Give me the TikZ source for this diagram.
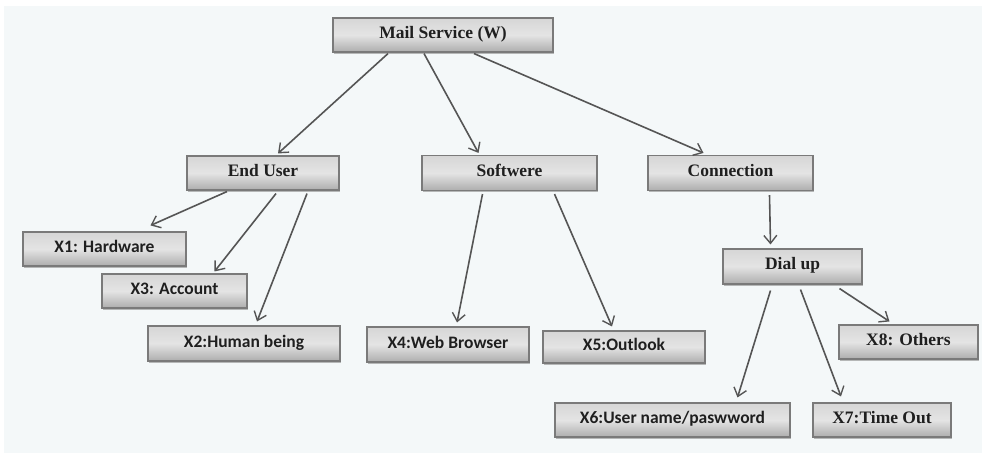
\documentclass[tikz,border=0pt]{standalone}
\usepackage{fontspec}
\setmainfont{Liberation Serif}
\newfontfamily\carlitofont{Carlito}
\usetikzlibrary{arrows.meta,shadows,calc}
\definecolor{bgc}{HTML}{F4F8F9}
\definecolor{boxline}{HTML}{7A7A7A}
\definecolor{arr}{HTML}{555555}
\definecolor{boxtop}{HTML}{D6D6D6}
\definecolor{boxmid}{HTML}{E4E4E4}
\definecolor{boxbot}{HTML}{ADADAD}
\tikzset{
  gbox/.style={draw=boxline, line width=1.1pt, top color=boxtop, bottom color=boxbot, middle color=boxmid,
    drop shadow={shadow xshift=1.2pt, shadow yshift=-1.5pt, fill=black!45, opacity=.6},
    inner sep=0pt, font=\fontsize{17.5}{20}\selectfont\bfseries, text=black!88,
    text height=12pt, text depth=6pt},
  sbox/.style={gbox, font=\carlitofont\fontsize{17.5}{20}\selectfont\bfseries,
    text height=11.5pt, text depth=4.5pt},
  conn/.style={draw=arr, line width=1.6pt, -{Straight Barb[length=8pt,width=13pt,line width=1.4pt]}}
}
\begin{document}
\begin{tikzpicture}[x=1pt,y=-1pt]
\useasboundingbox (0,0) rectangle (982,453);
\fill[bgc] (4,6) rectangle (982,453);
% nodes (center, size)
\node[gbox, minimum width=220pt, minimum height=34pt] (mail) at (443,35) {Mail Service (W)};
\node[gbox, minimum width=152pt, minimum height=34pt] (eu) at (263,173) {End User};
\node[gbox, minimum width=175pt, minimum height=35pt] (sw) at (509.5,173) {Softwere};
\node[gbox, minimum width=165pt, minimum height=35pt] (cn) at (730.5,173) {Connection};
\node[sbox, minimum width=163pt, minimum height=34pt] (x1) at (104.5,249) {X1: Hardware};
\node[sbox, minimum width=145pt, minimum height=34pt] (x3) at (174.5,291) {X3: Account};
\node[sbox, minimum width=192pt, minimum height=35pt] (x2) at (244,343.5) {X2:Human being};
\node[sbox, minimum width=162pt, minimum height=35pt] (x4) at (448,344.5) {X4:Web Browser};
\node[sbox, minimum width=162pt, minimum height=32pt] (x5) at (624,347) {X5:Outlook};
\node[gbox, minimum width=139pt, minimum height=35pt] (dial) at (792.5,266.5) {Dial up};
\node[gbox, minimum width=139pt, minimum height=34pt] (x8) at (908.5,342) {X8: Others};
\node[sbox, minimum width=235pt, minimum height=34pt] (x6) at (672.5,420) {X6:User name/paswword};
\node[gbox, minimum width=138pt, minimum height=34pt] (x7) at (882,420) {X7:Time Out};
% connectors
\draw[conn] ([xshift=-55pt,yshift=-1pt]mail.south) -- ([xshift=15pt,yshift=2pt]eu.north);
\draw[conn] ([xshift=-19pt,yshift=-1pt]mail.south) -- ([xshift=-31pt,yshift=2pt]sw.north);
\draw[conn] ([xshift=31pt,yshift=-1pt]mail.south) -- ([xshift=-27pt,yshift=2pt]cn.north);
\draw[conn] ([xshift=-36pt,yshift=-1pt]eu.south) -- ([xshift=46pt,yshift=6pt]x1.north);
\draw[conn] ([xshift=13pt,yshift=-3pt]eu.south) -- ([xshift=40pt,yshift=2pt]x3.north);
\draw[conn] ([xshift=44pt,yshift=-3pt]eu.south) -- ([xshift=13pt,yshift=4pt]x2.north);
\draw[conn] ([xshift=-27pt,yshift=-3pt]sw.south) -- ([xshift=9pt,yshift=4pt]x4.north);
\draw[conn] ([xshift=45pt,yshift=-3pt]sw.south) -- ([xshift=-12pt,yshift=4pt]x5.north);
\draw[conn] ([xshift=39pt,yshift=-4pt]cn.south) -- ([xshift=-22pt,yshift=4pt]dial.north);
\draw[conn] ([xshift=-22pt,yshift=-6pt]dial.south) -- ([xshift=65pt,yshift=5pt]x6.north);
\draw[conn] ([xshift=8pt,yshift=-5pt]dial.south) -- ([xshift=-41pt,yshift=6pt]x7.north);
\draw[conn] ([xshift=47pt,yshift=-4pt]dial.south) -- ([xshift=-19pt,yshift=3pt]x8.north);
\end{tikzpicture}
\end{document}
